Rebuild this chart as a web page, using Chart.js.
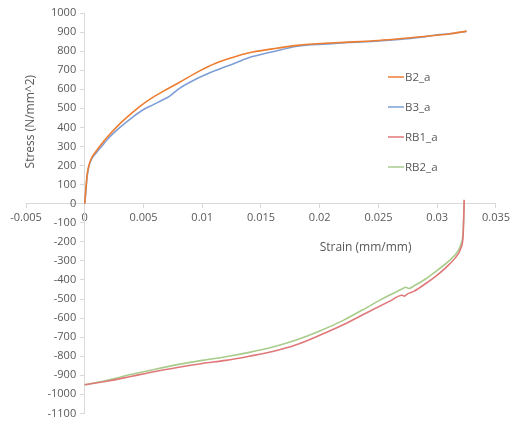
<!DOCTYPE html>
<html>
<head>
<meta charset="utf-8">
<script src="https://cdn.jsdelivr.net/npm/chart.js@4.4.1/dist/chart.umd.min.js"></script>
<style>
  html, body { margin: 0; padding: 0; background: #fff; }
  #wrap { width: 514px; height: 423px; }
</style>
</head>
<body>
<div id="wrap"><canvas id="chart" width="514" height="423"></canvas></div>
<script>
// strain (mm/mm) / stress (N/mm^2)
const b2Strain = [0, 0.0001, 0.0002, 0.00035, 0.0006, 0.001, 0.0015, 0.002, 0.003, 0.004, 0.0049, 0.006, 0.0067, 0.008, 0.0097, 0.0112, 0.0125, 0.0139, 0.016, 0.0181, 0.0207, 0.0224, 0.025, 0.027, 0.0289, 0.031, 0.0325];
const b2Stress = [0, 80, 150, 200, 242, 278, 318, 355, 420, 475, 520, 565, 590, 634, 694, 738, 765, 790, 812, 830, 842, 847, 856, 866, 877, 890, 905];

const b3Strain = [0, 0.0001, 0.0002, 0.00035, 0.0006, 0.001, 0.0015, 0.002, 0.003, 0.004, 0.0049, 0.0058, 0.0067, 0.0072, 0.008, 0.0097, 0.0112, 0.0125, 0.0139, 0.016, 0.0181, 0.0207, 0.0224, 0.025, 0.027, 0.029, 0.03, 0.031, 0.0325];
const b3Stress = [0, 70, 140, 195, 236, 268, 305, 342, 400, 450, 490, 518, 546, 563, 602, 660, 700, 730, 764, 797, 826, 838, 845, 853, 863, 876, 886, 891, 903];

const rb1Strain = [0, 0.002, 0.004, 0.006, 0.008, 0.01, 0.012, 0.014, 0.016, 0.018, 0.02, 0.022, 0.024, 0.026, 0.027, 0.0272, 0.0275, 0.028, 0.029, 0.03, 0.031, 0.0318, 0.032, 0.0322, 0.0323];
const rb1Stress = [-950, -930, -905, -880, -858, -838, -822, -800, -775, -740, -690, -635, -572, -510, -480, -485, -472, -460, -420, -375, -320, -262, -235, -170, 20];

const rb2Strain = [0, 0.002, 0.004, 0.006, 0.008, 0.01, 0.012, 0.014, 0.016, 0.018, 0.02, 0.022, 0.024, 0.025, 0.026, 0.027, 0.0273, 0.0276, 0.028, 0.029, 0.03, 0.031, 0.0318, 0.032, 0.0322, 0.0323];
const rb2Stress = [-950, -925, -895, -868, -843, -822, -803, -780, -752, -715, -668, -612, -545, -510, -478, -448, -438, -445, -432, -395, -350, -300, -245, -215, -150, 20];

const seriesNames = ['B2_a', 'B3_a', 'RB1_a', 'RB2_a'];
const seriesColors = ['#ED7D31', '#7E9FD6', '#E0787A', '#A8CC8C'];

const xTitle = 'Strain (mm/mm)';
const yTitle = 'Stress (N/mm^2)';

const toPoints = (xs, ys) => xs.map((x, i) => ({ x: x, y: ys[i] }));
const allData = [toPoints(b2Strain, b2Stress), toPoints(b3Strain, b3Stress), toPoints(rb1Strain, rb1Stress), toPoints(rb2Strain, rb2Stress)];

const FONT = '"Open Sans", "Liberation Sans", sans-serif';
const TEXT = '#595959';
const AXIS = '#d9d9d9';

// axis titles and legend sit inside the plot, like the Excel original
const overlay = {
  id: 'overlay',
  afterDraw(chart) {
    const { ctx, scales } = chart;
    ctx.save();
    ctx.fillStyle = TEXT;
    ctx.font = '12px ' + FONT;
    ctx.textAlign = 'center';
    ctx.textBaseline = 'middle';
    ctx.fillText(xTitle, scales.x.getPixelForValue(0.0239), scales.y.getPixelForValue(-230));
    ctx.translate(scales.x.getPixelForValue(-0.00457), scales.y.getPixelForValue(430));
    ctx.rotate(-Math.PI / 2);
    ctx.fillText(yTitle, 0, 0);
    ctx.restore();

    ctx.save();
    ctx.font = '11.5px ' + FONT;
    ctx.textBaseline = 'middle';
    chart.data.datasets.forEach((ds, i) => {
      const y = 77 + i * 30;
      ctx.strokeStyle = ds.borderColor;
      ctx.lineWidth = 1.5;
      ctx.beginPath();
      ctx.moveTo(388, y);
      ctx.lineTo(404, y);
      ctx.stroke();
      ctx.fillStyle = TEXT;
      ctx.fillText(ds.label, 405, y + 1);
    });
    ctx.restore();
  }
};

new Chart(document.getElementById('chart'), {
  type: 'scatter',
  data: {
    datasets: seriesNames.map((name, i) => ({
      label: name,
      data: allData[i],
      showLine: true,
      borderColor: seriesColors[i],
      backgroundColor: seriesColors[i],
      borderWidth: 1.6,
      pointRadius: 0,
      cubicInterpolationMode: 'monotone'
    }))
  },
  options: {
    responsive: false,
    animation: false,
    layout: { padding: { left: 26, right: 17, top: 13, bottom: 7 } },
    plugins: { legend: { display: false }, tooltip: { enabled: false } },
    scales: {
      x: {
        type: 'linear',
        min: -0.005,
        max: 0.035,
        position: { y: 0 },
        afterFit: s => { s.height = 0; },
        border: { display: true, color: AXIS },
        grid: { drawOnChartArea: false, drawTicks: true, tickLength: 4, color: AXIS },
        ticks: {
          stepSize: 0.005,
          maxRotation: 0,
          padding: 4,
          color: TEXT,
          font: { family: FONT, size: 11 },
          callback: v => String(parseFloat(v.toFixed(4)))
        }
      },
      y: {
        type: 'linear',
        min: -1100,
        max: 1000,
        position: { x: 0 },
        afterFit: s => { s.width = 0; },
        border: { display: true, color: AXIS },
        grid: { drawOnChartArea: false, drawTicks: true, tickLength: 4, color: AXIS },
        ticks: {
          stepSize: 100,
          color: TEXT,
          font: { family: FONT, size: 11 },
          // labels of a value-positioned axis get no padding, so pad with spaces
          callback: v => String(v) + '   '
        }
      }
    }
  },
  plugins: [overlay]
});
</script>
</body>
</html>
